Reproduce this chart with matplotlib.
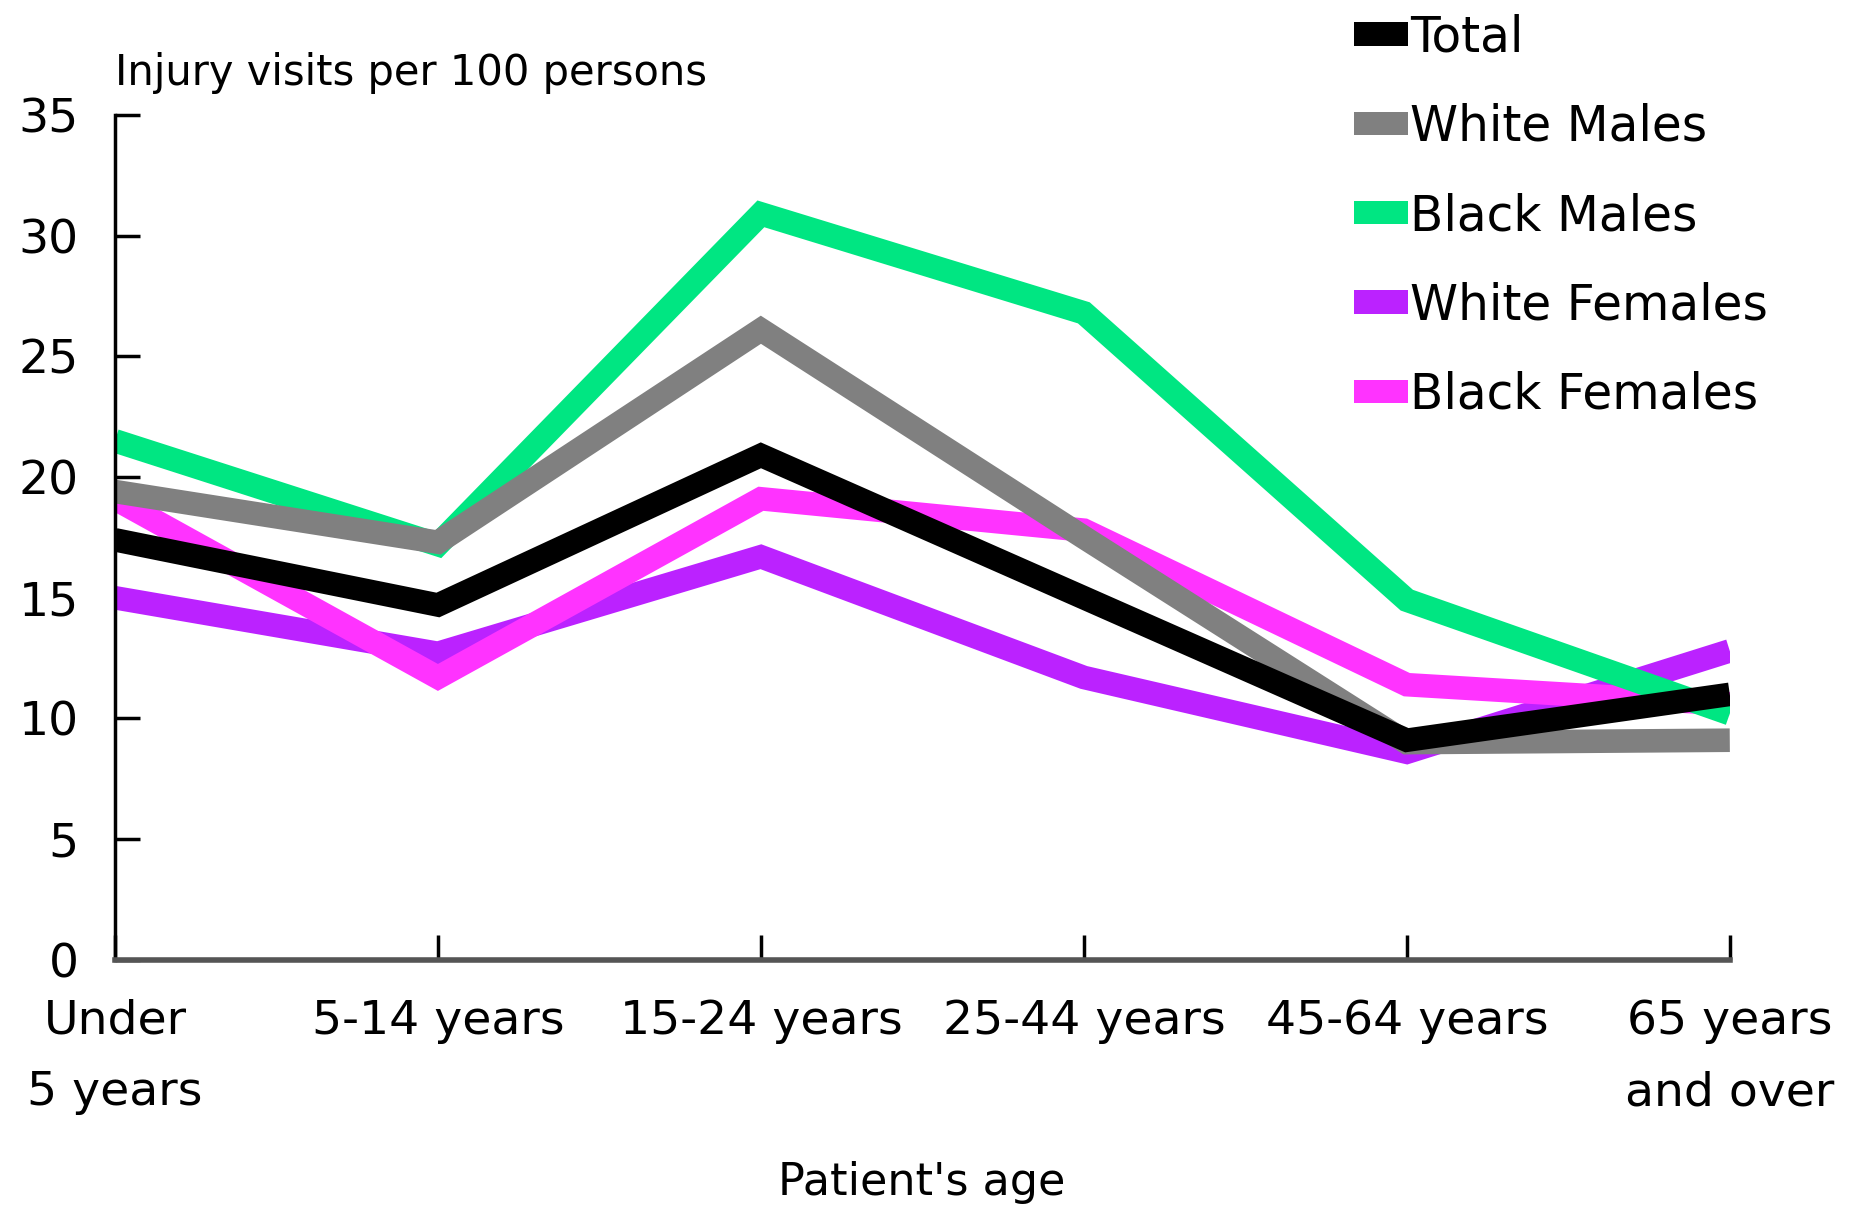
import matplotlib.pyplot as plt
from matplotlib.patches import Patch

plt.rcParams['font.family'] = ['DejaVu Sans']

# Data
age_groups = ['Under\n5 years', '5-14 years', '15-24 years', '25-44 years', '45-64 years', '65 years\nand over']
total = [17.4, 14.7, 20.9, 15.0, 9.1, 11.0]
white_males = [19.4, 17.3, 26.1, 17.5, 9.0, 9.1]
black_males = [21.5, 17.2, 30.9, 26.8, 14.9, 10.2]
white_females = [15.0, 12.7, 16.7, 11.7, 8.6, 12.8]
black_females = [19.1, 11.7, 19.1, 17.8, 11.4, 10.6]

series = [
    ('Total', total, '#000000'),
    ('White Males', white_males, '#808080'),
    ('Black Males', black_males, '#00e682'),
    ('White Females', white_females, '#bb22ff'),
    ('Black Females', black_females, '#ff33ff'),
]

fig = plt.figure(figsize=(18.54, 12.09), dpi=100)
ax = fig.add_axes([0.062, 0.206, 0.871, 0.699])

x = range(len(age_groups))
# draw order: back to front
for name, vals, col in [series[3], series[4], series[2], series[1], series[0]]:
    ax.plot(x, vals, color=col, lw=17, solid_capstyle='butt', solid_joinstyle='miter')

ax.set_xlim(0, len(age_groups) - 1)
ax.set_ylim(0, 35)
ax.set_yticks(range(0, 36, 5))
ax.set_xticks(list(x))
ax.set_xticklabels(age_groups, linespacing=1.75)

for s in ['top', 'right']:
    ax.spines[s].set_visible(False)
ax.spines['left'].set_linewidth(2.5)
ax.spines['bottom'].set_linewidth(4)
ax.spines['bottom'].set_color('#555555')

ax.tick_params(axis='y', direction='in', length=18, width=2.5, labelsize=34, pad=26)
ax.tick_params(axis='x', direction='in', length=18, width=2.5, labelsize=34, pad=28)

fig.text(0.062, 0.94, 'Injury visits per 100 persons', fontsize=30, va='center', ha='left')
fig.text(0.497, 0.022, "Patient's age", fontsize=32, va='center', ha='center')

handles = [Patch(facecolor=c, edgecolor='none') for _, _, c in series]
labels = [n for n, _, _ in series]
fig.legend(handles, labels, loc='upper left', bbox_to_anchor=(0.72, 1.005),
           frameon=False, fontsize=35, handlelength=1.1, handleheight=0.36,
           handletextpad=0.05, labelspacing=0.85, borderaxespad=0)

fig.savefig('out.png', dpi=100)
